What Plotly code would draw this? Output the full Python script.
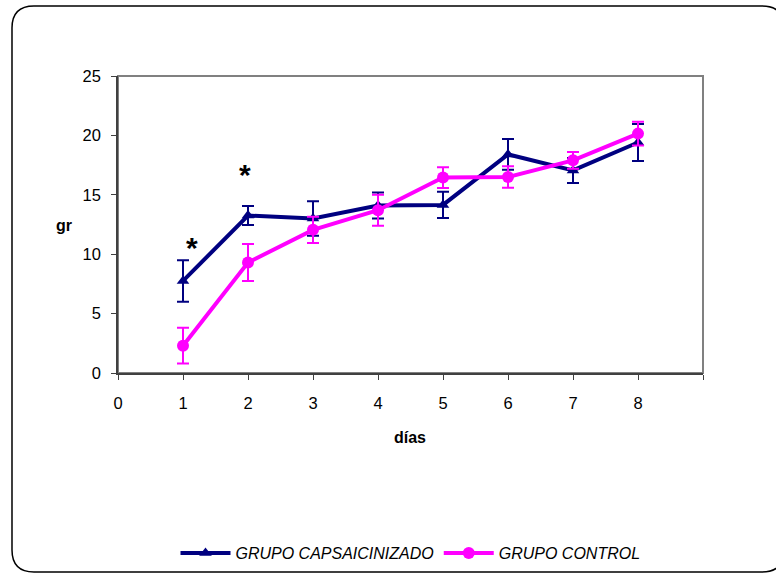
import plotly.graph_objects as go

days = [1, 2, 3, 4, 5, 6, 7, 8]
caps_mean = [7.75, 13.25, 13.0, 14.1, 14.15, 18.4, 17.05, 19.4]
caps_err = [1.75, 0.8, 1.45, 1.1, 1.1, 1.3, 1.05, 1.55]
ctrl_mean = [2.3, 9.3, 12.05, 13.7, 16.45, 16.5, 17.9, 20.15]
ctrl_err = [1.5, 1.55, 1.1, 1.3, 0.87, 0.9, 0.7, 1.0]
x_ticks = [0, 1, 2, 3, 4, 5, 6, 7, 8, 9]
x_ticktext = ["0", "1", "2", "3", "4", "5", "6", "7", "8", ""]
y_ticks = [0, 5, 10, 15, 20, 25]
stars_x = [1.14, 1.95]
stars_y = [10.6, 16.7]

NAVY = "#000080"
MAGENTA = "#FF00FF"
FONT = "Liberation Sans, Arial, sans-serif"

fig = go.Figure()
fig.add_trace(go.Scatter(
    x=days, y=caps_mean, name="GRUPO CAPSAICINIZADO", mode="lines+markers",
    line=dict(color=NAVY, width=4),
    marker=dict(symbol="triangle-up", size=11, color=NAVY),
    error_y=dict(type="data", array=caps_err, color=NAVY, thickness=2, width=6),
))
fig.add_trace(go.Scatter(
    x=days, y=ctrl_mean, name="GRUPO CONTROL", mode="lines+markers",
    line=dict(color=MAGENTA, width=4),
    marker=dict(symbol="circle", size=12, color=MAGENTA),
    error_y=dict(type="data", array=ctrl_err, color=MAGENTA, thickness=2, width=6),
))

for sx, sy in zip(stars_x, stars_y):
    fig.add_annotation(x=sx, y=sy, text="<b>*</b>", showarrow=False,
                       font=dict(size=30, color="black", family=FONT))

# margins
L, R, T, B = 118, 73, 76, 201
W, H = 776, 574
pw, ph = W - L - R, H - T - B

def px(X):
    return (X - L) / pw

def py(Y):
    return (H - B - Y) / ph

fig.add_annotation(x=px(64), y=py(226), xref="paper", yref="paper", text="<b>gr</b>",
                   xanchor="center", yanchor="middle",
                   showarrow=False, font=dict(size=16, family=FONT, color="black"))
fig.add_annotation(x=px(410), y=py(437), xref="paper", yref="paper", text="<b>días</b>",
                   xanchor="center", yanchor="middle",
                   showarrow=False, font=dict(size=16, family=FONT, color="black"))

x0, y0, x1, y1, r = 12, 6, 784, 572, 22
pts = [
    ("M", x0 + r, y0), ("L", x1 - r, y0), ("Q", x1, y0, x1, y0 + r),
    ("L", x1, y1 - r), ("Q", x1, y1, x1 - r, y1), ("L", x0 + r, y1),
    ("Q", x0, y1, x0, y1 - r), ("L", x0, y0 + r), ("Q", x0, y0, x0 + r, y0),
]
path = ""
for p in pts:
    cmd = p[0]
    coords = p[1:]
    s = []
    for i in range(0, len(coords), 2):
        s.append(f"{px(coords[i]):.5f},{py(coords[i+1]):.5f}")
    path += cmd + " " + " ".join(s) + " "
path += "Z"

fig.add_shape(type="path", path=path, xref="paper", yref="paper",
              line=dict(color="black", width=1.5), layer="below")
fig.add_shape(type="rect", x0=0, x1=1, y0=0, y1=1, xref="paper", yref="paper",
              line=dict(color="#808080", width=2), layer="below")

fig.update_layout(
    width=W, height=H,
    margin=dict(l=L, r=R, t=T, b=B, autoexpand=False),
    paper_bgcolor="white", plot_bgcolor="white",
    font=dict(family=FONT, size=16, color="black"),
    showlegend=True,
    legend=dict(orientation="h", x=0.5, xanchor="center", y=py(553), yanchor="middle",
                font=dict(family=FONT, size=16, style="italic", color="black"),
                itemwidth=50, bgcolor="rgba(0,0,0,0)"),
    xaxis=dict(range=[0, 9], tickvals=x_ticks, ticktext=x_ticktext, automargin=False,
               showgrid=False, zeroline=False, showline=True, linecolor="#404040",
               linewidth=1.5, ticks="outside", ticklen=5, tickcolor="#404040",
               ticklabelstandoff=9, tickfont=dict(size=16.5)),
    yaxis=dict(range=[0, 25], tickvals=y_ticks, showgrid=False, zeroline=False,
               automargin=False,
               showline=True, linecolor="#404040", linewidth=1.5, ticks="outside",
               ticklen=5, tickcolor="#404040", ticklabelstandoff=7,
               tickfont=dict(size=16.5)),
)

fig.write_html("out.html")
